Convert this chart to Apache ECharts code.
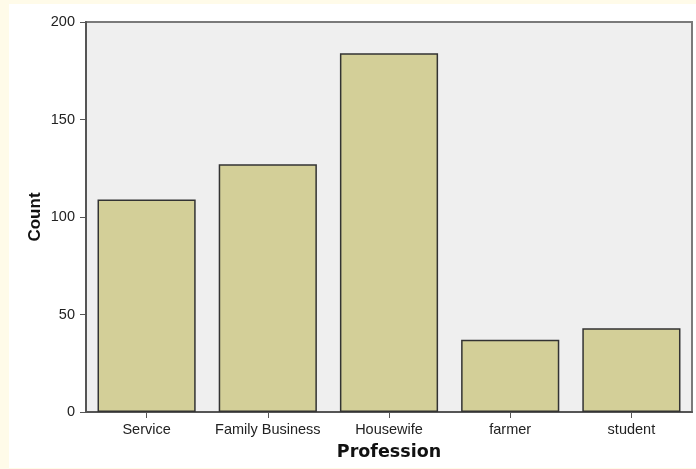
<!DOCTYPE html>
<html>
<head>
<meta charset="utf-8">
<script src="https://cdn.jsdelivr.net/npm/echarts@6/dist/echarts.min.js"></script>
<style>
  html, body { margin: 0; padding: 0; background: #fffbe9; }
  #chart { width: 696px; height: 469px; }
</style>
</head>
<body>
<div id="chart"></div>
<script>
// Profession counts
const categories = ['Service', 'Family Business', 'Housewife', 'farmer', 'student'];
const counts = [109, 127, 184, 37, 43];
const yTicks = [0, 50, 100, 150, 200];

const myChart = echarts.init(document.getElementById('chart'));
const option = {
	backgroundColor: '#fffbe9',
	animation: false,
	graphic: [
		{
			type: 'rect',
			z: -10,
			shape: { x: 9, y: 4, width: 687, height: 464 },
			style: { fill: '#ffffff' },
		},
	],
	grid: {
		left: 86,
		right: 4,
		top: 22,
		bottom: 57,
		show: true,
		backgroundColor: '#efefef',
		borderColor: '#7a7a7a',
		borderWidth: 2,
	},
	xAxis: {
		type: 'category',
		data: categories,
		name: 'Profession',
		nameLocation: 'middle',
		nameGap: 31,
		nameMoveOverlap: false,
		nameTextStyle: {
			fontFamily: 'DejaVu Sans',
			fontWeight: 'bold',
			fontSize: 17.5,
			color: '#111',
		},
		axisLine: { lineStyle: { color: '#555', width: 2 } },
		axisTick: { show: true, alignWithLabel: true, length: 6, lineStyle: { color: '#555' } },
		axisLabel: { interval: 0, fontFamily: 'Liberation Sans', fontSize: 14.5, color: '#222', margin: 10 },
	},
	yAxis: {
		type: 'value',
		min: 0,
		max: 200,
		interval: 50,
		name: 'Count',
		nameLocation: 'middle',
		nameGap: 42,
		nameMoveOverlap: false,
		nameRotate: 90,
		nameTextStyle: {
			fontFamily: 'Liberation Sans',
			fontWeight: 'bold',
			fontSize: 17,
			color: '#111',
		},
		axisLine: { show: true, lineStyle: { color: '#555', width: 2 } },
		axisTick: { show: true, length: 6, lineStyle: { color: '#555' } },
		splitLine: { show: false },
		axisLabel: {
			fontFamily: 'Liberation Sans',
			fontSize: 14.5,
			color: '#222',
			margin: 11,
			formatter: (v) => (yTicks.includes(v) ? String(v) : ''),
		},
	},
	series: [
		{
			type: 'bar',
			data: counts,
			barCategoryGap: '19%',
			itemStyle: {
				color: '#d3cf98',
				borderColor: '#333',
				borderWidth: 1.5,
			},
		},
	],
};
myChart.setOption(option);
</script>
</body>
</html>
